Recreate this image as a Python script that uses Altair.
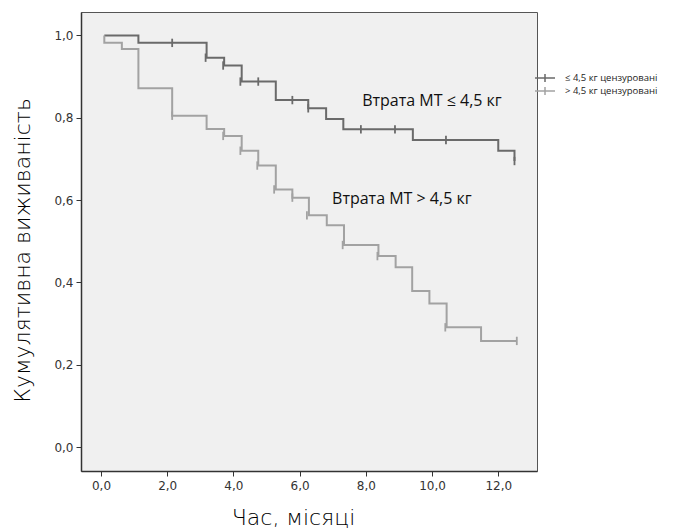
import altair as alt
import pandas as pd

# ---- data ----
grp_le = "≤ 4,5 кг цензуровані"
grp_gt = "> 4,5 кг цензуровані"

le_t = [0.1, 1.13, 3.19, 3.72, 4.25, 5.28, 6.26, 6.80, 7.32, 9.42, 12.0, 12.49]
le_s = [1.0, 0.982, 0.946, 0.927, 0.888, 0.843, 0.823, 0.797, 0.772, 0.746, 0.720, 0.695]

gt_t = [0.1, 0.1, 0.63, 1.13, 2.15, 3.19, 3.72, 4.25, 4.75, 5.28, 5.78, 6.28, 6.82, 7.34,
        8.38, 8.90, 9.40, 9.92, 10.44, 11.48, 12.56]
gt_s = [1.0, 0.982, 0.967, 0.872, 0.805, 0.773, 0.756, 0.720, 0.684, 0.626, 0.606, 0.563,
        0.539, 0.491, 0.464, 0.437, 0.379, 0.349, 0.291, 0.258, 0.258]

le_cens_t = [2.15, 3.16, 3.69, 4.21, 4.75, 5.78, 6.26, 7.85, 8.88, 10.42, 12.49]
le_cens_s = [0.982, 0.946, 0.927, 0.888, 0.888, 0.843, 0.823, 0.772, 0.772, 0.746, 0.695]

gt_cens_t = [2.15, 3.69, 4.21, 4.72, 5.23, 5.78, 6.22, 7.30, 8.35, 10.40, 12.56]
gt_cens_s = [0.805, 0.756, 0.720, 0.684, 0.626, 0.606, 0.563, 0.491, 0.464, 0.291, 0.258]

ann_text = ["Втрата МТ ≤ 4,5 кг", "Втрата МТ > 4,5 кг"]
ann_t = [7.89, 6.98]
ann_s = [0.841, 0.603]

x_ticks = [0, 2, 4, 6, 8, 10, 12]
y_ticks = [0.0, 0.2, 0.4, 0.6, 0.8, 1.0]

groups = [grp_le, grp_gt]
colors = ["#6a6a6a", "#a2a2a2"]

lines = pd.DataFrame(
    {"t": le_t + gt_t, "s": le_s + gt_s,
     "g": [grp_le] * len(le_t) + [grp_gt] * len(gt_t),
     "o": list(range(len(le_t))) + list(range(len(gt_t)))}
)
cens = pd.DataFrame(
    {"t": le_cens_t + gt_cens_t, "s": le_cens_s + gt_cens_s,
     "g": [grp_le] * len(le_cens_t) + [grp_gt] * len(gt_cens_t)}
)
ann = pd.DataFrame({"t": ann_t, "s": ann_s, "label": ann_text})

lab_expr = "replace(format(datum.value, '.1f'), '.', ',')"

xs = alt.Scale(domain=[-0.604, 13.17], nice=False, zero=False)
ys = alt.Scale(domain=[-0.058, 1.057], nice=False, zero=False)

AX_FONT = "DejaVu Sans"

x_axis = alt.Axis(values=x_ticks, labelExpr=lab_expr, title="Час, місяці",
                  grid=False, tickSize=5, tickColor="#333", domainColor="#333",
                  domainWidth=1.5, labelFont=AX_FONT, labelFontSize=12,
                  labelColor="#333", labelPadding=4, titleFont=AX_FONT,
                  titleFontSize=22, titleFontWeight=200, titleColor="#000",
                  titleX=212, titleY=46, titleBaseline="middle")
y_axis = alt.Axis(values=y_ticks, labelExpr=lab_expr, title="Кумулятивна виживаність",
                  grid=False, tickSize=5, tickColor="#333", domainColor="#333",
                  domainWidth=1.5, labelFont=AX_FONT, labelFontSize=12,
                  labelColor="#333", labelPadding=3, titleFont=AX_FONT,
                  titleFontSize=22, titleFontWeight=200, titleColor="#000",
                  titleX=-59, titleY=238, titleBaseline="middle", titleAngle=-90)

color = alt.Color(
    "g:N",
    scale=alt.Scale(domain=groups, range=colors),
    legend=alt.Legend(title=None, orient="none", legendX=458, legendY=60,
                      symbolType="M-2,0L2,0M0,-0.8L0,0.8", symbolSize=100,
                      symbolStrokeWidth=1.5, symbolFillColor="transparent",
                      labelFont="Open Sans", labelFontSize=9.5, labelColor="#222",
                      labelOffset=14, rowPadding=-2, padding=0),
)

base_line = alt.Chart(lines).mark_line(interpolate="step-after", strokeWidth=2).encode(
    x=alt.X("t:Q", scale=xs, axis=x_axis),
    y=alt.Y("s:Q", scale=ys, axis=y_axis),
    color=color,
    order="o:Q",
)

marks = alt.Chart(cens).mark_point(
    shape="M0,-1L0,1", size=70, filled=False, strokeWidth=1.8
).encode(
    x=alt.X("t:Q", scale=xs),
    y=alt.Y("s:Q", scale=ys),
    color=alt.Color("g:N", scale=alt.Scale(domain=groups, range=colors), legend=None),
    opacity=alt.value(1),
)

texts = alt.Chart(ann).mark_text(
    align="left", baseline="middle", font="Open Sans", fontSize=16, color="#111"
).encode(
    x=alt.X("t:Q", scale=xs),
    y=alt.Y("s:Q", scale=ys),
    text="label:N",
)

chart = (
    alt.layer(base_line, marks, texts)
    .properties(width=456, height=459,
                autosize=alt.AutoSizeParams(type="none"),
                padding={"left": 81, "top": 12, "right": 141, "bottom": 57},
                background="white")
    .configure_view(fill="#f0f0f0", stroke="#555", strokeWidth=1)
)

chart.save("out.html", embed_options={"renderer": "svg", "actions": False})
